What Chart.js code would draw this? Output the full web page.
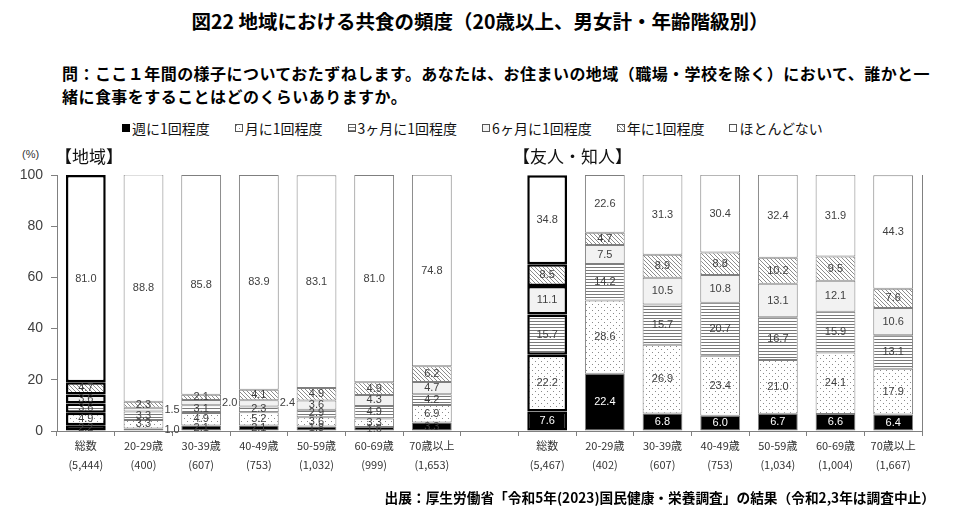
<!DOCTYPE html>
<html lang="ja">
<head>
<meta charset="utf-8">
<script src="https://cdn.jsdelivr.net/npm/chart.js@4.4.1/dist/chart.umd.min.js"></script>
<style>
body{margin:0;width:960px;height:517px;position:relative;background:#fff;overflow:hidden;
  font-family:"Noto Sans CJK JP","Noto Sans",sans-serif;color:#000}
#chart{position:absolute;left:0;top:0}
.title{position:absolute;top:6px;left:0;width:960px;text-align:center;font-size:19.5px;font-weight:bold}
.question{position:absolute;left:62px;top:62px;font-size:16px;font-weight:bold;line-height:23px;letter-spacing:0.45px}
.legend{position:absolute;left:122px;top:118px;display:flex;gap:25px;font-size:14px;color:#111}
.legend span{display:flex;align-items:center;gap:2px}
.group{position:absolute;top:143px;font-size:17px;color:#111}
.pct{position:absolute;left:22px;top:148px;font-size:11px;font-family:"Liberation Sans",Arial,sans-serif;color:#333}
.source{position:absolute;right:25px;top:487px;font-size:13.7px;font-weight:bold}
</style>
</head>
<body>
<div class="title">図22 地域における共食の頻度（20歳以上、男女計・年齢階級別）</div>
<div class="question">問：ここ１年間の様子についておたずねします。あなたは、お住まいの地域（職場・学校を除く）において、誰かと一<br>緒に食事をすることはどのくらいありますか。</div>
<div class="legend" id="legend"></div>
<div class="pct">(%)</div>
<div class="group" style="left:55px">【地域】</div>
<div class="group" style="left:513px">【友人・知人】</div>
<canvas id="chart" width="960" height="517"></canvas>
<div class="source">出展：厚生労働省「令和5年(2023)国民健康・栄養調査」の結果（令和2,3年は調査中止）</div>

<script>
// categories
const ageGroups = ["総数","20-29歳","30-39歳","40-49歳","50-59歳","60-69歳","70歳以上"];
const regionN = ["(5,444)","(400)","(607)","(753)","(1,032)","(999)","(1,653)"];
const friendN = ["(5,467)","(402)","(607)","(753)","(1,034)","(1,004)","(1,667)"];

const seriesNames = ["週に1回程度","月に1回程度","3ヶ月に1回程度","6ヶ月に1回程度","年に1回程度","ほとんどない"];

// 地域
const regionWeekly    = [2.2, 1.0, 2.1, 2.1, 1.8, 1.6, 3.3];
const regionMonthly   = [4.9, 3.3, 4.9, 5.2, 3.6, 3.3, 6.9];
const regionQuarterly = [3.6, 3.3, 3.1, 2.3, 2.9, 4.9, 4.2];
const regionHalfYear  = [3.6, 1.5, 2.0, 2.4, 3.6, 4.3, 4.7];
const regionYearly    = [4.7, 2.3, 2.1, 4.1, 4.9, 4.9, 6.2];
const regionRarely    = [81.0, 88.8, 85.8, 83.9, 83.1, 81.0, 74.8];

// 友人・知人
const friendWeekly    = [7.6, 22.4, 6.8, 6.0, 6.7, 6.6, 6.4];
const friendMonthly   = [22.2, 28.6, 26.9, 23.4, 21.0, 24.1, 17.9];
const friendQuarterly = [15.7, 14.2, 15.7, 20.7, 16.7, 15.9, 13.1];
const friendHalfYear  = [11.1, 7.5, 10.5, 10.8, 13.1, 12.1, 10.6];
const friendYearly    = [8.5, 4.7, 8.9, 8.8, 10.2, 9.5, 7.6];
const friendRarely    = [34.8, 22.6, 31.3, 30.4, 32.4, 31.9, 44.3];

const yTicks = [0, 20, 40, 60, 80, 100];

// one blank slot between the two groups
const join = (a, b) => [...a, null, ...b];
const labels = join(
  ageGroups.map((g, i) => [g, regionN[i]]),
  ageGroups.map((g, i) => [g, friendN[i]])
);
labels[ageGroups.length] = ["", ""];
const friendStart = ageGroups.length + 1;

const seriesData = [
  join(regionWeekly, friendWeekly),
  join(regionMonthly, friendMonthly),
  join(regionQuarterly, friendQuarterly),
  join(regionHalfYear, friendHalfYear),
  join(regionYearly, friendYearly),
  join(regionRarely, friendRarely)
];

// labels that sit to the right of the bar: [series, index]
const outsideLabels = [[0,1],[3,1],[3,2],[3,3]];

function tile(w, h, draw){
  const c = document.createElement("canvas");
  c.width = w; c.height = h;
  const g = c.getContext("2d");
  g.fillStyle = "#fff"; g.fillRect(0, 0, w, h);
  draw(g);
  return c;
}
const dotTile = tile(6, 6, g => { g.fillStyle = "#8a8a8a"; g.fillRect(1,1,1,1); g.fillRect(4,4,1,1); });
const lineTile = tile(1, 3, g => { g.fillStyle = "#7a7a7a"; g.fillRect(0,0,1,1); });
const hatchTile = tile(4, 4, g => { g.fillStyle = "#8c8c8c"; for(let k=0;k<4;k++) g.fillRect(k,k,1,1); });

const ctx = document.getElementById("chart").getContext("2d");
const fills = [
  "#000",
  ctx.createPattern(dotTile, "repeat"),
  ctx.createPattern(lineTile, "repeat"),
  "#f2f2f2",
  ctx.createPattern(hatchTile, "repeat"),
  "#fff"
];

const isTotal = i => i === 0 || i === friendStart;

const datasets = seriesNames.map((name, s) => ({
  label: name,
  data: seriesData[s],
  backgroundColor: fills[s],
  borderColor: c => isTotal(c.dataIndex) ? "#000" : "#7f7f7f",
  borderWidth: c => isTotal(c.dataIndex) ? 2.5 : 1,
  borderSkipped: false,
  barPercentage: 0.69,
  categoryPercentage: 1
}));

const valueLabels = {
  id: "valueLabels",
  afterDatasetsDraw(chart){
    const c = chart.ctx;
    c.save();
    c.font = '11px "Liberation Sans", Arial, sans-serif';
    c.textBaseline = "middle";
    chart.data.datasets.forEach((ds, s) => {
      chart.getDatasetMeta(s).data.forEach((bar, j) => {
        const v = ds.data[j];
        if (v == null) return;
        const y = (bar.y + bar.base) / 2;
        c.fillStyle = (s === 0 && j >= friendStart) ? "#fff" : "#404040";
        if (outsideLabels.some(o => o[0] === s && o[1] === j)) {
          c.textAlign = "left";
          c.fillText(v.toFixed(1), bar.x + bar.width / 2 + 1, y);
        } else {
          c.textAlign = "center";
          c.fillText(v.toFixed(1), bar.x, y);
        }
      });
    });
    c.restore();
  }
};

new Chart(ctx, {
  type: "bar",
  data: { labels: labels, datasets: datasets },
  options: {
    responsive: false,
    animation: false,
    layout: { padding: { top: 175, left: 0, right: 0, bottom: 0 } },
    plugins: { legend: { display: false }, tooltip: { enabled: false } },
    scales: {
      x: {
        stacked: true,
        grid: { drawOnChartArea: false, tickLength: 5, color: "#808080" },
        border: { color: "#808080" },
        ticks: {
          autoSkip: false, maxRotation: 0, padding: 0, color: "#333",
          font: { family: '"Liberation Sans Narrow","Noto Sans CJK JP",sans-serif', size: 11, lineHeight: 1.75 }
        },
        afterFit: s => { s.height = 86; }
      },
      y: {
        stacked: true,
        min: 0, max: 100,
        grid: { drawOnChartArea: false, tickLength: 6, color: "#808080" },
        border: { color: "#808080" },
        afterBuildTicks: s => { s.ticks = yTicks.map(v => ({ value: v })); },
        ticks: { padding: 8, color: "#404040", font: { family: '"Liberation Sans",Arial,sans-serif', size: 14 } },
        afterFit: s => { s.width = 57; }
      },
      y2: {
        position: "right",
        min: 0, max: 100,
        grid: { drawOnChartArea: false, drawTicks: false },
        border: { color: "#808080" },
        ticks: { display: false },
        afterFit: s => { s.width = 38; }
      }
    }
  },
  plugins: [valueLabels]
});

// legend built from the same fills
const legend = document.getElementById("legend");
seriesNames.forEach((name, s) => {
  const item = document.createElement("span");
  const sw = document.createElement("canvas");
  sw.width = 8; sw.height = 8;
  const g = sw.getContext("2d");
  g.fillStyle = fills[s];
  g.fillRect(0, 0, 8, 8);
  g.strokeStyle = s === 0 ? "#000" : "#555";
  g.strokeRect(0.5, 0.5, 7, 7);
  item.appendChild(sw);
  item.appendChild(document.createTextNode(name));
  legend.appendChild(item);
});
</script>
</body>
</html>
